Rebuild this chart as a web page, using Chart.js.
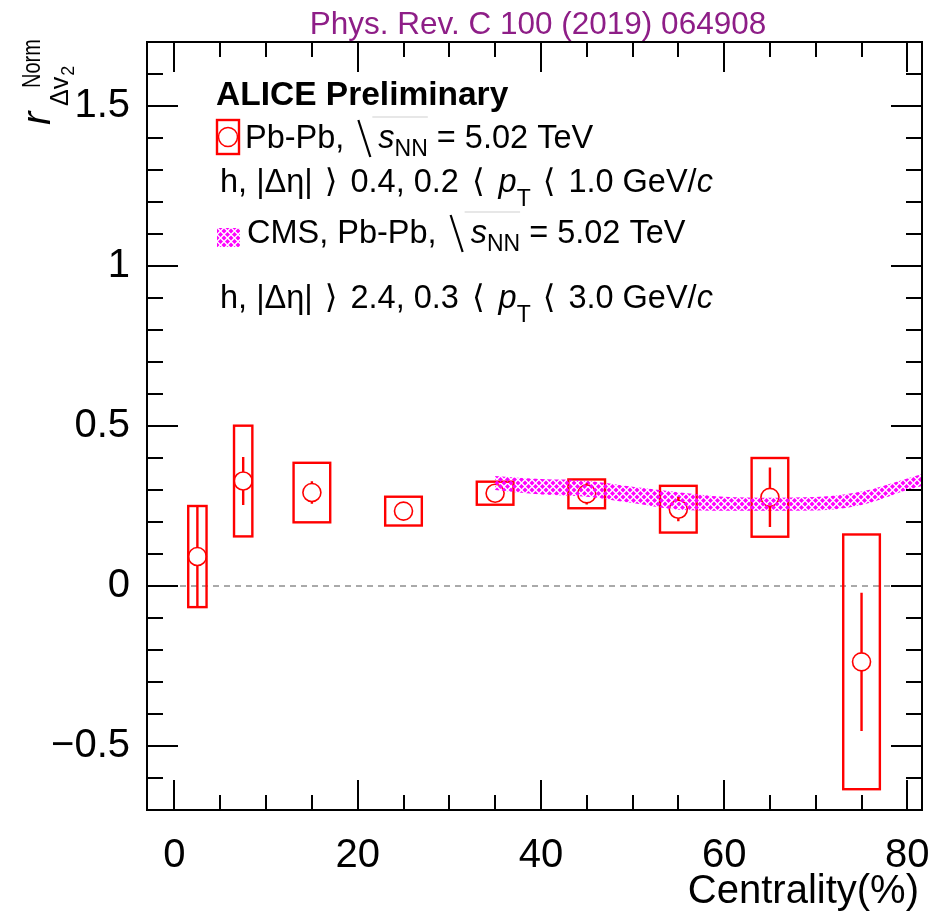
<!DOCTYPE html>
<html><head><meta charset="utf-8">
<script src="https://cdn.jsdelivr.net/npm/chart.js@4.4.1/dist/chart.umd.min.js"></script>
<style>html,body{margin:0;padding:0;background:#fff;}#wrap{width:934px;height:914px;position:relative;}</style>
</head><body><div id="wrap"><canvas id="c" width="934" height="914"></canvas></div>
<script>
// ---------------- data ----------------
const centrality = [2.5, 7.5, 15, 25, 35, 45, 55, 65, 75];
const rNorm      = [0.092, 0.328, 0.292, 0.234, 0.290, 0.288, 0.240, 0.277, -0.237];
const statErr    = [0.158, 0.075, 0.035, 0.010, 0.015, 0.033, 0.038, 0.093, 0.216];
const sysErr     = [0.158, 0.173, 0.093, 0.045, 0.036, 0.045, 0.073, 0.123, 0.398];
const cmsCentrality = [35, 40, 45, 50, 55, 60, 65, 70, 75, 80, 82];
const cmsLow  = [0.300, 0.286, 0.279, 0.259, 0.238, 0.235, 0.235, 0.236, 0.253, 0.300, 0.316];
const cmsHigh = [0.344, 0.334, 0.329, 0.310, 0.293, 0.279, 0.276, 0.278, 0.295, 0.336, 0.354];
const xTicks = [0, 20, 40, 60, 80];
const yTicks = [-0.5, 0, 0.5, 1, 1.5];

// ---------------- style ----------------
const boxHalfWidth = [1, 1, 2, 2, 2, 2, 2, 2, 2];
const F = '"Liberation Sans","DejaVu Sans",Arial,sans-serif';
const RED = '#ff0000', MAG = '#ff00ff', TITLE = '#8e1e87';

// hatch pattern
const tile = document.createElement('canvas'); tile.width = 7; tile.height = 7;
(function(){
  const t = tile.getContext('2d'); t.fillStyle = MAG;
  const d = (cx, cy, r) => { t.beginPath(); t.moveTo(cx, cy - r); t.lineTo(cx + r, cy); t.lineTo(cx, cy + r); t.lineTo(cx - r, cy); t.closePath(); t.fill(); };
  const R = 2.5;
  d(3.5, 3.5, R); d(0, 0, R); d(7, 0, R); d(0, 7, R); d(7, 7, R);
})();
const hatch = tile.getContext('2d').createPattern(tile, 'repeat');

function rich(ctx, x, y, parts) {
  ctx.textAlign = 'left'; ctx.textBaseline = 'alphabetic'; ctx.fillStyle = '#000';
  for (const p of parts) {
    x += (p.pl || 0);
    if (p.sqrt) {
      const x0 = x;
      ctx.save(); ctx.strokeStyle = '#000'; ctx.lineWidth = 2.2;
      ctx.beginPath(); ctx.moveTo(x0, y - 28); ctx.lineTo(x0 + 12, y + 9); ctx.stroke();
      ctx.restore();
      const xe = rich(ctx, x0 + 20, y, p.parts);
      ctx.save(); ctx.strokeStyle = '#cfcfcf'; ctx.lineWidth = 1;
      ctx.beginPath(); ctx.moveTo(x0 + 14, y - 31); ctx.lineTo(xe, y - 31); ctx.stroke(); ctx.restore();
      x = xe + (p.pr || 0); continue;
    }
    ctx.font = p.f; ctx.fillText(p.t, x, y + (p.dy || 0)); x += ctx.measureText(p.t).width + (p.pr || 0);
  }
  return x;
}

const LS = 32.5;
const fn = `${LS}px ${F}`, fi = `italic ${LS}px ${F}`, fs = `23px ${F}`;
const fmt = v => { const r = Math.round(v * 10) / 10; return r < 0 ? '\u2212' + Math.abs(r) : String(r); };

const rootPlugin = {
  id: 'rootStyle',
  beforeDatasetsDraw(chart) {
    const { ctx, chartArea: a, scales: { x, y } } = chart;
    ctx.save();
    ctx.beginPath(); ctx.rect(a.left, a.top, a.width, a.height); ctx.clip();
    const y0 = y.getPixelForValue(0);
    ctx.strokeStyle = '#555'; ctx.lineWidth = 1; ctx.setLineDash([6, 5]);
    ctx.beginPath(); ctx.moveTo(a.left, y0); ctx.lineTo(a.right, y0); ctx.stroke();
    ctx.setLineDash([]);
    ctx.strokeStyle = RED; ctx.lineWidth = 2.4;
    centrality.forEach((c, i) => {
      const xl = x.getPixelForValue(c - boxHalfWidth[i]), xr = x.getPixelForValue(c + boxHalfWidth[i]);
      const yt = y.getPixelForValue(rNorm[i] + sysErr[i]), yb = y.getPixelForValue(rNorm[i] - sysErr[i]);
      ctx.strokeRect(xl, yt, xr - xl, yb - yt);
    });
    ctx.restore();
  },
  afterDatasetsDraw(chart) {
    const { ctx, scales: { x, y } } = chart;
    const r = 9;
    ctx.save(); ctx.strokeStyle = RED; ctx.lineWidth = 2.4;
    centrality.forEach((c, i) => {
      const xp = x.getPixelForValue(c), yc = y.getPixelForValue(rNorm[i]);
      const yt = y.getPixelForValue(rNorm[i] + statErr[i]), yb = y.getPixelForValue(rNorm[i] - statErr[i]);
      ctx.beginPath();
      if (yc - yt > r) { ctx.moveTo(xp, yt); ctx.lineTo(xp, yc - r); }
      if (yb - yc > r) { ctx.moveTo(xp, yc + r); ctx.lineTo(xp, yb); }
      ctx.stroke();
    });
    ctx.restore();
  },
  afterDraw(chart) {
    const { ctx, chartArea: a, scales: { x, y } } = chart;
    ctx.save();
    // ticks
    ctx.strokeStyle = '#000'; ctx.lineWidth = 2;
    ctx.beginPath();
    for (let k = -7; k <= 17; k++) {
      const yp = Math.round(y.getPixelForValue(k / 10));
      const L = (k % 5 === 0) ? 31 : 16;
      ctx.moveTo(a.left, yp); ctx.lineTo(a.left + L, yp);
      ctx.moveTo(a.right, yp); ctx.lineTo(a.right - L, yp);
    }
    for (let v = 0; v <= 80; v += 5) {
      const xp = Math.round(x.getPixelForValue(v));
      const L = (v % 20 === 0) ? 30 : 15;
      ctx.moveTo(xp, a.bottom); ctx.lineTo(xp, a.bottom - L);
      ctx.moveTo(xp, a.top); ctx.lineTo(xp, a.top + L);
    }
    ctx.stroke();
    ctx.strokeRect(a.left, a.top, a.right - a.left, a.bottom - a.top);

    // x tick labels
    ctx.fillStyle = '#000'; ctx.font = `40px ${F}`; ctx.textAlign = 'center'; ctx.textBaseline = 'alphabetic';
    xTicks.forEach(v => ctx.fillText(fmt(v), x.getPixelForValue(v), 867));
    // x axis title
    ctx.textAlign = 'right'; ctx.fillText('Centrality(%)', 919, 903);

    // title
    ctx.fillStyle = TITLE; ctx.font = `31.5px ${F}`; ctx.textAlign = 'center';
    ctx.fillText('Phys. Rev. C 100 (2019) 064908', 538, 34);

    // y axis title (rotated)
    ctx.fillStyle = '#000';
    ctx.save();
    ctx.translate(50, 125); ctx.rotate(-Math.PI / 2);
    ctx.textAlign = 'left';
    ctx.font = `italic 40px ${F}`; ctx.fillText('r', 0, 0);
    ctx.save(); ctx.translate(37, -10); ctx.scale(0.8, 1);
    ctx.font = `25px ${F}`; ctx.fillText('Norm', 0, 0); ctx.restore();
    ctx.font = `25px ${F}`; ctx.fillText('\u0394v', 19, 18);
    const w = ctx.measureText('\u0394v').width;
    ctx.font = `18px ${F}`; ctx.fillText('2', 19 + w + 1, 24);
    ctx.restore();

    // legend
    ctx.fillStyle = '#000'; ctx.textAlign = 'left';
    ctx.font = `bold 33.5px ${F}`; ctx.fillText('ALICE Preliminary', 216, 105);

    ctx.strokeStyle = RED; ctx.lineWidth = 2.4; ctx.strokeRect(217, 120, 22, 34);
    ctx.lineWidth = 1.5; ctx.beginPath(); ctx.arc(228, 137, 9.5, 0, Math.PI * 2); ctx.stroke();
    rich(ctx, 245, 148, [
      { t: 'Pb-Pb,', f: fn },
      { sqrt: true, pl: 14, parts: [{ t: 's', f: fi }, { t: 'NN', f: fs, dy: 8 }] },
      { t: ' = 5.02 TeV', f: fn }
    ]);
    const line35 = (a1, a2, b) => [
      { t: 'h, |\u0394\u03b7|', f: fn },
      { t: '\u27e9', f: fn, pl: 12, pr: 13 },
      { t: a1 + ', ' + a2, f: fn },
      { t: '\u27e8', f: fn, pl: 13, pr: 14 },
      { t: 'p', f: fi }, { t: 'T', f: fs, dy: 14 },
      { t: '\u27e8', f: fn, pl: 12, pr: 13 },
      { t: b + ' GeV/', f: fn }, { t: 'c', f: fi }
    ];
    rich(ctx, 220, 192, line35('0.4', '0.2', '1.0'));
    ctx.fillStyle = hatch; ctx.fillRect(217, 228, 23, 19);
    rich(ctx, 247, 243, [
      { t: 'CMS, Pb-Pb,', f: fn },
      { sqrt: true, pl: 14, parts: [{ t: 's', f: fi }, { t: 'NN', f: fs, dy: 8 }] },
      { t: ' = 5.02 TeV', f: fn }
    ]);
    rich(ctx, 220, 308, line35('2.4', '0.3', '3.0'));
    ctx.restore();
  }
};

new Chart(document.getElementById('c'), {
  type: 'scatter',
  data: {
    datasets: [
      { label: 'CMS high', data: cmsCentrality.map((c, i) => ({ x: c, y: cmsHigh[i] })), showLine: true,
        borderWidth: 0, borderColor: 'rgba(0,0,0,0)', pointRadius: 0, fill: false, cubicInterpolationMode: 'monotone' },
      { label: 'CMS low', data: cmsCentrality.map((c, i) => ({ x: c, y: cmsLow[i] })), showLine: true,
        borderWidth: 0, borderColor: 'rgba(0,0,0,0)', pointRadius: 0, fill: '-1', backgroundColor: hatch, cubicInterpolationMode: 'monotone' },
      { label: 'ALICE', data: centrality.map((c, i) => ({ x: c, y: rNorm[i] })), pointRadius: 9, pointHoverRadius: 9,
        borderColor: RED, backgroundColor: 'rgba(0,0,0,0)', borderWidth: 1.6, pointStyle: 'circle' }
    ]
  },
  options: {
    responsive: false, animation: false, events: [],
    layout: { padding: { top: 42, right: 12, left: 0, bottom: 0 } },
    plugins: { legend: { display: false }, tooltip: { enabled: false }, title: { display: false } },
    scales: {
      x: { type: 'linear', min: -3, max: 81.6,
        afterFit(s) { s.height = 104; s.paddingLeft = 0; s.paddingRight = 0; },
        afterBuildTicks(s) { s.ticks = xTicks.map(v => ({ value: v })); },
        grid: { display: false, drawTicks: false }, border: { display: false },
        ticks: { display: false } },
      y: { type: 'linear', min: -0.7, max: 1.7,
        afterFit(s) { s.width = 147; s.paddingTop = 0; s.paddingBottom = 0; },
        afterBuildTicks(s) { s.ticks = yTicks.map(v => ({ value: v })); },
        grid: { display: false, drawTicks: false }, border: { display: false },
        ticks: { font: { family: F, size: 40 }, color: '#000', padding: 17, autoSkip: false, callback: v => fmt(v) } }
    }
  },
  plugins: [rootPlugin]
});
</script></body></html>
